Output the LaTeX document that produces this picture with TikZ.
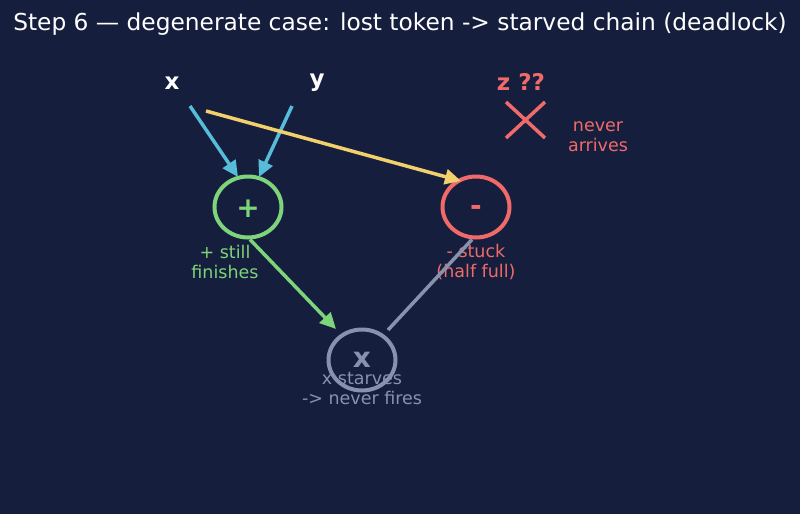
\documentclass[tikz,border=0pt]{standalone}
\usepackage{fontspec}
\setmainfont{DejaVu Sans}
\usetikzlibrary{arrows.meta,shapes.geometric}
\definecolor{bg}{HTML}{151F3D}
\definecolor{cgreen}{HTML}{7ED47A}
\definecolor{cred}{HTML}{F06A6A}
\definecolor{cgrey}{HTML}{8891AE}
\definecolor{ccyan}{HTML}{56BCD9}
\definecolor{cyell}{HTML}{F2D06B}
\tikzset{
  opcircle/.style={draw, line width=4pt, ellipse, minimum width=67pt, minimum height=61pt, inner sep=0pt, font=\fontsize{28}{28}\selectfont\bfseries},
  lbl/.style={font=\fontsize{17.5}{20}\selectfont, align=center},
  var/.style={font=\fontsize{23}{23}\selectfont\bfseries, text=white},
  arr/.style={line width=3.5pt, -{Triangle[length=16pt,width=15pt]}},
}
\begin{document}
\begin{tikzpicture}[x=1pt,y=-1pt]
\fill[bg] (0,0) rectangle (800,514);
\useasboundingbox (0,0) rectangle (800,514);
\node[font=\fontsize{23.3}{23.3}\selectfont, text=white] (title) at (400,24) {Step 6 — degenerate case: lost token -> starved chain (deadlock)};
\node[var] (xl) at (172,83) {x};
\node[var] (yl) at (317,83) {y};
\node[var, text=cred] (zl) at (521,82) {z ??};
\node[opcircle, draw=cgreen, text=cgreen] (plus) at (248,207) {\smash{\raisebox{-10pt}{+}}};
\node[opcircle, draw=cred, text=cred] (minus) at (476,207) {\smash{\raisebox{-8.5pt}{-}}};
\node[opcircle, draw=cgrey, text=cgrey] (times) at (362,360) {\smash{\raisebox{-7.5pt}{x}}};
\node[lbl, text=cgreen] (plusl) at (225,262) {+ still\\finishes};
\node[lbl, text=cred] (minusl) at (476,262) {- stuck\\(half full)};
\node[lbl, text=cgrey] (timesl) at (362,388) {x starves\\-> never fires};
\node[lbl, text=cred] (never) at (598,137) {never\\arrives};
\coordinate (xs) at (190,106);
\coordinate (ys) at (292,106);
\coordinate (zs) at (206,111);
\coordinate (c1) at (506,102);
\coordinate (c2) at (545,138);
\coordinate (c3) at (545,102);
\coordinate (c4) at (506,138);
\draw[cred, line width=3.5pt] (c1) -- (c2) (c3) -- (c4);
\draw[arr, ccyan] (xs) -- (238,177);
\draw[arr, ccyan] (ys) -- (259,177);
\draw[arr, cyell] (zs) -- (461,181);
\draw[arr, cgreen] (plus.south) ++(2,0) -- (336,329);
\draw[cgrey, line width=3.5pt] (minus.south) ++(-4,0) -- (388,330);
\end{tikzpicture}
\end{document}
